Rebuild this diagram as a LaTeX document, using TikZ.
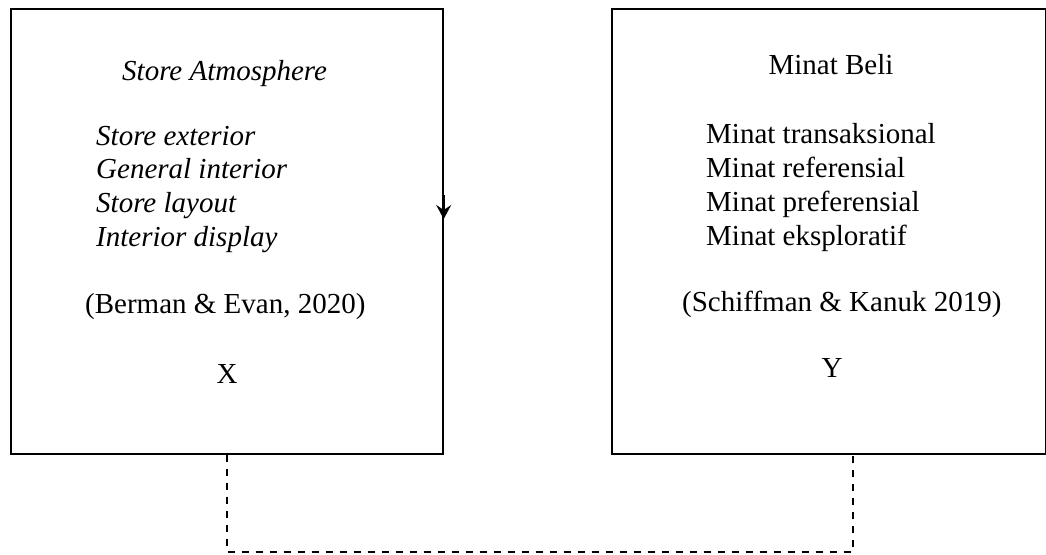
\documentclass[tikz,border=0pt]{standalone}
\usepackage{fontspec}
\setmainfont{Liberation Serif}
\usetikzlibrary{arrows.meta,calc}
\tikzset{
  varbox/.style={draw, line width=1.7pt, rectangle, inner sep=0pt},
  txt/.style={inner sep=0pt, anchor=base west, font=\fontsize{29}{33}\selectfont},
  txtc/.style={inner sep=0pt, anchor=base, font=\fontsize{29}{33}\selectfont},
  link/.style={dashed, dash pattern=on 7pt off 7pt, line width=1.3pt},
  edgearrow/.style={line width=1.7pt, -{Stealth[length=14pt,width=15pt,inset=5pt]}}
}
\begin{document}
\begin{tikzpicture}[x=1pt,y=-1pt]
\useasboundingbox (0,0) rectangle (1046,554);
% boxes
\node[varbox, minimum width=432pt, minimum height=445pt, anchor=north west] (boxX) at (10,8) {};
\node[varbox, minimum width=434pt, minimum height=445pt, anchor=north west] (boxY) at (611,8) {};
% left box texts
\node[txt] (xtitle) at (122,80) {\itshape Store Atmosphere};
\node[txt] (x1) at (96,145) {\itshape Store exterior};
\node[txt] (x2) at (96,178) {\itshape General interior};
\node[txt] (x3) at (96,212) {\itshape Store layout};
\node[txt] (x4) at (96,246) {\itshape Interior display};
\node[txt] (xref) at (85,313) {(Berman \& Evan, 2020)};
\node[txtc] (xlab) at (227,383) {X};
% right box texts
\node[txtc] (ytitle) at (831,74) {Minat Beli};
\node[txt] (y1) at (706,143) {Minat transaksional};
\node[txt] (y2) at (706,177) {Minat referensial};
\node[txt] (y3) at (706,211) {Minat preferensial};
\node[txt] (y4) at (706,245) {Minat eksploratif};
\node[txt] (yref) at (682,311) {(Schiffman \& Kanuk 2019)};
\node[txtc] (ylab) at (832,377) {Y};
% arrow on the right edge of the left box
\coordinate (astart) at (boxX.east |- 0,195);
\coordinate (atip) at (boxX.east |- 0,219);
\draw[edgearrow] (astart) -- (atip);
% dashed link
\coordinate (ydash) at (853,453);
\coordinate (xdash) at (boxX.south -| 227,0);
\draw[link] (xdash) -- (227,552) -| (ydash);
\end{tikzpicture}
\end{document}
